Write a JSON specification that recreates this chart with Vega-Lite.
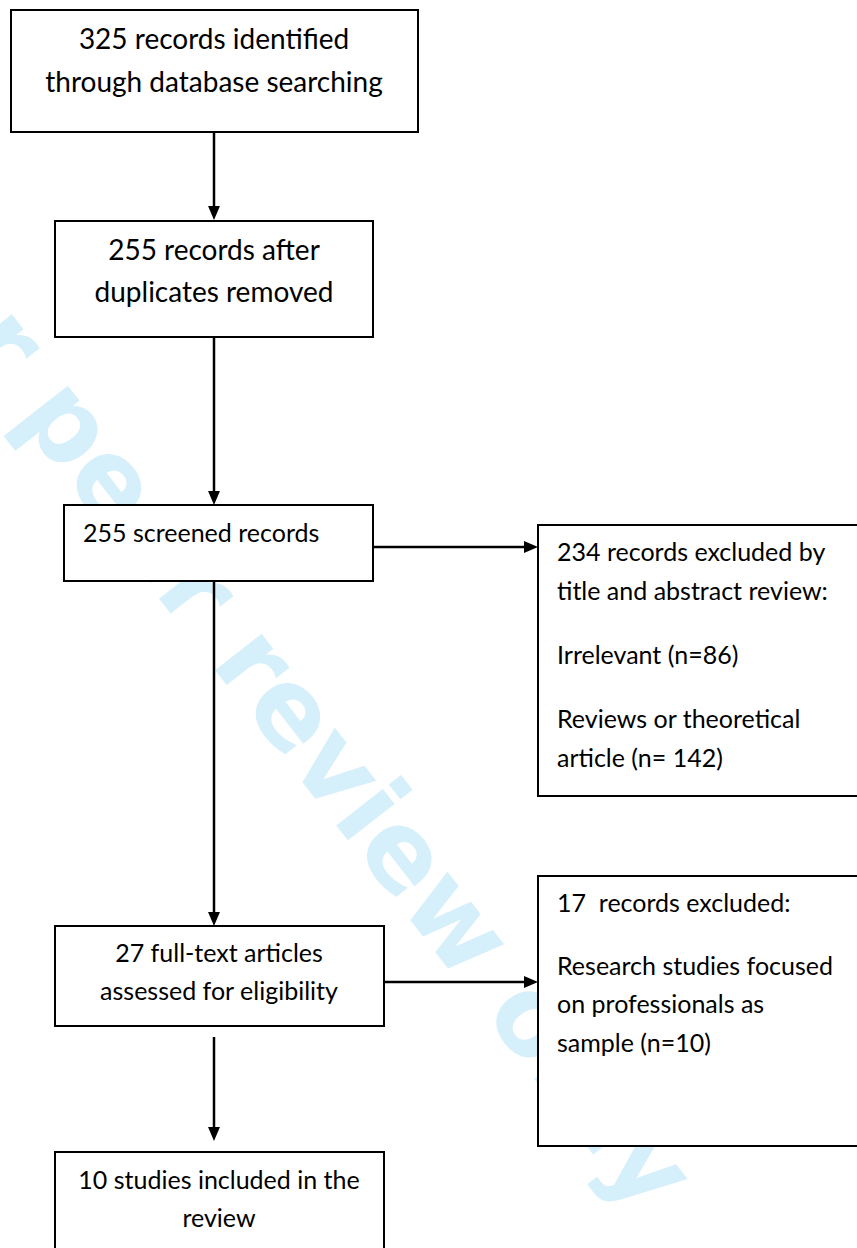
{
  "$schema": "https://vega.github.io/schema/vega-lite/v6.json",
  "width": 857,
  "height": 1248,
  "padding": 0,
  "autosize": "none",
  "background": "white",
  "config": {"view": {"stroke": null}},
  "datasets": {
    "boxes": [
      {"box": "identified", "x1": 11, "x2": 418, "y1": 10, "y2": 132},
      {"box": "deduplicated", "x1": 55, "x2": 373, "y1": 221, "y2": 337},
      {"box": "screened", "x1": 64, "x2": 373, "y1": 505, "y2": 581},
      {"box": "excluded1", "x1": 538, "x2": 862, "y1": 525, "y2": 796},
      {"box": "fulltext", "x1": 55, "x2": 384, "y1": 926, "y2": 1026},
      {"box": "excluded2", "x1": 538, "x2": 862, "y1": 876, "y2": 1146},
      {"box": "included", "x1": 55, "x2": 384, "y1": 1152, "y2": 1254}
    ],
    "links": [
      {"x1": 214, "x2": 214, "y1": 132, "y2": 212},
      {"x1": 214, "x2": 214, "y1": 337, "y2": 497},
      {"x1": 214, "x2": 214, "y1": 581, "y2": 918},
      {"x1": 214, "x2": 214, "y1": 1037, "y2": 1133},
      {"x1": 373, "x2": 530, "y1": 547, "y2": 547},
      {"x1": 384, "x2": 530, "y1": 982, "y2": 982}
    ],
    "heads": [
      {"dir": "down", "x": 214, "y": 213},
      {"dir": "down", "x": 214, "y": 498},
      {"dir": "down", "x": 214, "y": 919},
      {"dir": "down", "x": 214, "y": 1134},
      {"dir": "right", "x": 531, "y": 547},
      {"dir": "right", "x": 531, "y": 982}
    ],
    "labels": [
      {"group": "top", "x": 214, "y": 49, "text": "325 records identified"},
      {"group": "top", "x": 214, "y": 92, "text": "through database searching"},
      {"group": "top", "x": 214, "y": 260, "text": "255 records after"},
      {"group": "top", "x": 214, "y": 302, "text": "duplicates removed"},
      {"group": "center", "x": 219, "y": 962, "text": "27 full-text articles"},
      {"group": "center", "x": 219, "y": 1000, "text": "assessed for eligibility"},
      {"group": "center", "x": 219, "y": 1189, "text": "10 studies included in the"},
      {"group": "center", "x": 219, "y": 1227, "text": "review"},
      {"group": "left", "x": 83, "y": 542, "text": "255 screened records"},
      {"group": "left", "x": 557, "y": 561, "text": "234 records excluded by"},
      {"group": "left", "x": 557, "y": 600, "text": "title and abstract review:"},
      {"group": "left", "x": 557, "y": 664, "text": "Irrelevant (n=86)"},
      {"group": "left", "x": 557, "y": 728, "text": "Reviews or theoretical"},
      {"group": "left", "x": 557, "y": 767, "text": "article (n= 142)"},
      {"group": "left", "x": 557, "y": 912, "text": "17\u00a0 records excluded:"},
      {"group": "left", "x": 557, "y": 975, "text": "Research studies focused"},
      {"group": "left", "x": 557, "y": 1013, "text": "on professionals as"},
      {"group": "left", "x": 557, "y": 1052, "text": "sample (n=10)"}
    ],
    "watermark": [
      {"x": 282, "y": 704, "text": "For peer review only"}
    ]
  },
  "layer": [
    {
      "data": {"name": "watermark"},
      "mark": {"type": "text", "font": "DejaVu Sans", "fontWeight": "bold", "fontSize": 108, "angle": 52, "align": "center", "baseline": "middle", "color": "#d5effb"},
      "encoding": {
        "x": {"field": "x", "type": "quantitative", "scale": {"domain": [0, 857], "nice": false, "zero": false}, "axis": null},
        "y": {"field": "y", "type": "quantitative", "scale": {"domain": [0, 1248], "nice": false, "zero": false, "reverse": true}, "axis": null},
        "text": {"field": "text"}
      }
    },
    {
      "data": {"name": "boxes"},
      "mark": {"type": "rect", "fill": "white", "stroke": "black", "strokeWidth": 2},
      "encoding": {
        "x": {"field": "x1", "type": "quantitative", "scale": {"domain": [0, 857], "nice": false, "zero": false}, "axis": null},
        "x2": {"field": "x2"},
        "y": {"field": "y1", "type": "quantitative", "scale": {"domain": [0, 1248], "nice": false, "zero": false, "reverse": true}, "axis": null},
        "y2": {"field": "y2"}
      }
    },
    {
      "data": {"name": "links"},
      "mark": {"type": "rule", "color": "black", "strokeWidth": 2.5},
      "encoding": {
        "x": {"field": "x1", "type": "quantitative", "scale": {"domain": [0, 857], "nice": false, "zero": false}, "axis": null},
        "x2": {"field": "x2"},
        "y": {"field": "y1", "type": "quantitative", "scale": {"domain": [0, 1248], "nice": false, "zero": false, "reverse": true}, "axis": null},
        "y2": {"field": "y2"}
      }
    },
    {
      "data": {"name": "heads"},
      "transform": [{"filter": "datum.dir === 'down'"}],
      "mark": {"type": "point", "shape": "M-0.85,-1L0.85,-1L0,1Z", "filled": true, "color": "black", "opacity": 1, "size": 196},
      "encoding": {
        "x": {"field": "x", "type": "quantitative", "scale": {"domain": [0, 857], "nice": false, "zero": false}, "axis": null},
        "y": {"field": "y", "type": "quantitative", "scale": {"domain": [0, 1248], "nice": false, "zero": false, "reverse": true}, "axis": null}
      }
    },
    {
      "data": {"name": "heads"},
      "transform": [{"filter": "datum.dir === 'right'"}],
      "mark": {"type": "point", "shape": "M-1,-0.85L-1,0.85L1,0Z", "filled": true, "color": "black", "opacity": 1, "size": 196},
      "encoding": {
        "x": {"field": "x", "type": "quantitative", "scale": {"domain": [0, 857], "nice": false, "zero": false}, "axis": null},
        "y": {"field": "y", "type": "quantitative", "scale": {"domain": [0, 1248], "nice": false, "zero": false, "reverse": true}, "axis": null}
      }
    },
    {
      "data": {"name": "labels"},
      "transform": [{"filter": "datum.group === 'top'"}],
      "mark": {"type": "text", "font": "Lato", "fontSize": 28, "align": "center", "baseline": "alphabetic", "color": "black"},
      "encoding": {
        "x": {"field": "x", "type": "quantitative", "scale": {"domain": [0, 857], "nice": false, "zero": false}, "axis": null},
        "y": {"field": "y", "type": "quantitative", "scale": {"domain": [0, 1248], "nice": false, "zero": false, "reverse": true}, "axis": null},
        "text": {"field": "text"}
      }
    },
    {
      "data": {"name": "labels"},
      "transform": [{"filter": "datum.group === 'center'"}],
      "mark": {"type": "text", "font": "Lato", "fontSize": 25, "align": "center", "baseline": "alphabetic", "color": "black"},
      "encoding": {
        "x": {"field": "x", "type": "quantitative", "scale": {"domain": [0, 857], "nice": false, "zero": false}, "axis": null},
        "y": {"field": "y", "type": "quantitative", "scale": {"domain": [0, 1248], "nice": false, "zero": false, "reverse": true}, "axis": null},
        "text": {"field": "text"}
      }
    },
    {
      "data": {"name": "labels"},
      "transform": [{"filter": "datum.group === 'left'"}],
      "mark": {"type": "text", "font": "Lato", "fontSize": 25, "align": "left", "baseline": "alphabetic", "color": "black"},
      "encoding": {
        "x": {"field": "x", "type": "quantitative", "scale": {"domain": [0, 857], "nice": false, "zero": false}, "axis": null},
        "y": {"field": "y", "type": "quantitative", "scale": {"domain": [0, 1248], "nice": false, "zero": false, "reverse": true}, "axis": null},
        "text": {"field": "text"}
      }
    }
  ]
}
